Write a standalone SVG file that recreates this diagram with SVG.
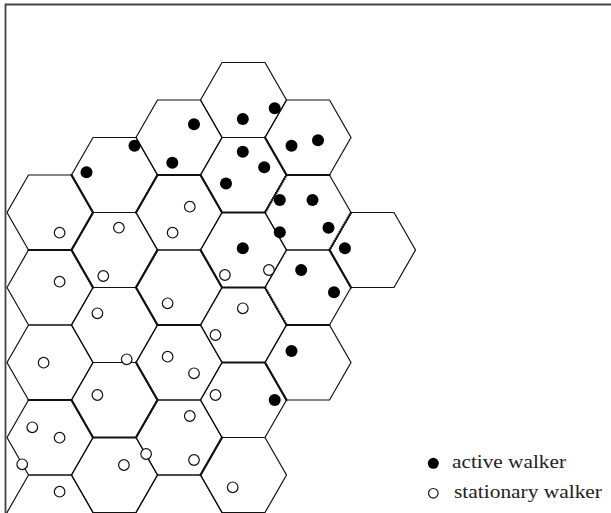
<svg xmlns="http://www.w3.org/2000/svg" xmlns:xlink="http://www.w3.org/1999/xlink" width="611" height="513" viewBox="0 0 611 513">
<style>
.cell{fill:none;stroke:#111;stroke-width:1.2;stroke-linejoin:miter}
.thick{fill:none;stroke:#111;stroke-width:2.2;stroke-linecap:round}
.hatch{fill:none;stroke:#111;stroke-width:2.6;stroke-dasharray:1.1 0.9}
.active{fill:#000}
.stat{fill:#fff;stroke:#111;stroke-width:1.2}
.lbl{font-family:"Liberation Serif","Times New Roman",serif;font-size:18px;fill:#222}
.frame{fill:none;stroke:#444;stroke-width:1.8}
</style>
<defs>
<polygon id="hex" points="-43,0 -21.5,-37.5 21.5,-37.5 43,0 21.5,37.5 -21.5,37.5"/>
</defs>
<rect width="611" height="513" fill="#fff"/>
<path class="frame" d="M5.5,513 V4.5 H611"/>

<g id="cells" class="cell">
<g id="hex-A1"><use href="#hex" x="50" y="212.5"/></g>
<g id="hex-A2"><use href="#hex" x="50" y="287.5"/></g>
<g id="hex-A3"><use href="#hex" x="50" y="362.5"/></g>
<g id="hex-A4"><use href="#hex" x="50" y="437.5"/></g>
<g id="hex-A5"><use href="#hex" x="50" y="512.5"/></g>
<g id="hex-B1"><use href="#hex" x="114.5" y="175"/></g>
<g id="hex-B2"><use href="#hex" x="114.5" y="250"/></g>
<g id="hex-B3"><use href="#hex" x="114.5" y="325"/></g>
<g id="hex-B4"><use href="#hex" x="114.5" y="400"/></g>
<g id="hex-B5"><use href="#hex" x="114.5" y="475"/></g>
<g id="hex-C1"><use href="#hex" x="179" y="137.5"/></g>
<g id="hex-C2"><use href="#hex" x="179" y="212.5"/></g>
<g id="hex-C3"><use href="#hex" x="179" y="287.5"/></g>
<g id="hex-C4"><use href="#hex" x="179" y="362.5"/></g>
<g id="hex-C5"><use href="#hex" x="179" y="437.5"/></g>
<g id="hex-C6"><use href="#hex" x="179" y="512.5"/></g>
<g id="hex-D1"><use href="#hex" x="243.5" y="100"/></g>
<g id="hex-D2"><use href="#hex" x="243.5" y="175"/></g>
<g id="hex-D3"><use href="#hex" x="243.5" y="250"/></g>
<g id="hex-D4"><use href="#hex" x="243.5" y="325"/></g>
<g id="hex-D5"><use href="#hex" x="243.5" y="400"/></g>
<g id="hex-D6"><use href="#hex" x="243.5" y="475"/></g>
<g id="hex-E1"><use href="#hex" x="308" y="137.5"/></g>
<g id="hex-E2"><use href="#hex" x="308" y="212.5"/></g>
<g id="hex-E3"><use href="#hex" x="308" y="287.5"/></g>
<g id="hex-E4"><use href="#hex" x="308" y="362.5"/></g>
<g id="hex-F1"><use href="#hex" x="372.5" y="250"/></g>
</g>

<g id="boundaries">
<path class="thick" d="M28.5,250H71.5 M71.5,175L93,212.5L71.5,250L93,287.5 M136,212.5L157.5,175H200.5 M157.5,250L136,287.5L157.5,325H200.5 M136,362.5L157.5,400L136,437.5H93L71.5,400H28.5 M222,437.5L200.5,475 M200.5,175L222,212.5H265 M200.5,250L222,287.5H265 M222,362.5H265L286.5,400 M265,137.5L286.5,175H329.5 M286.5,325H329.5 M329.5,250L351,287.5"/>
<path class="hatch" d="M286.5,175L265,212.5 M329.5,250L351,212.5 M265,287.5L286.5,325"/>
</g>

<g id="active-walkers" class="active">
<circle cx="274.7" cy="108.3" r="6"/>
<circle cx="242.8" cy="119" r="6"/>
<circle cx="194" cy="124.3" r="6"/>
<circle cx="134.5" cy="145.7" r="6"/>
<circle cx="86.5" cy="172.3" r="6"/>
<circle cx="172.3" cy="162.7" r="6"/>
<circle cx="242.8" cy="151.7" r="6"/>
<circle cx="264.2" cy="167.3" r="6"/>
<circle cx="226" cy="183.5" r="6"/>
<circle cx="291.5" cy="145.7" r="6"/>
<circle cx="318" cy="140.3" r="6"/>
<circle cx="279.8" cy="200" r="6"/>
<circle cx="312.5" cy="200" r="6"/>
<circle cx="279.8" cy="232.3" r="6"/>
<circle cx="328.5" cy="227.7" r="6"/>
<circle cx="242.8" cy="248.3" r="6"/>
<circle cx="344.9" cy="248.3" r="6"/>
<circle cx="301.2" cy="270" r="6"/>
<circle cx="334" cy="292.3" r="6"/>
<circle cx="291.5" cy="351" r="6"/>
<circle cx="274.7" cy="400" r="6"/>
</g>

<g id="stationary-walkers" class="stat">
<circle cx="189.8" cy="206.7" r="5.3"/>
<circle cx="118.9" cy="227.7" r="5.3"/>
<circle cx="172.6" cy="232.7" r="5.3"/>
<circle cx="59.6" cy="232.7" r="5.3"/>
<circle cx="59.6" cy="281.7" r="5.3"/>
<circle cx="103.3" cy="276" r="5.3"/>
<circle cx="224.9" cy="275" r="5.3"/>
<circle cx="268.9" cy="270" r="5.3"/>
<circle cx="167.6" cy="303.3" r="5.3"/>
<circle cx="97.4" cy="313.3" r="5.3"/>
<circle cx="242.8" cy="308.3" r="5.3"/>
<circle cx="215.5" cy="335" r="5.3"/>
<circle cx="43.6" cy="362.7" r="5.3"/>
<circle cx="126.7" cy="359.3" r="5.3"/>
<circle cx="167.6" cy="356.7" r="5.3"/>
<circle cx="194" cy="373.3" r="5.3"/>
<circle cx="97.4" cy="395" r="5.3"/>
<circle cx="215.5" cy="395" r="5.3"/>
<circle cx="189.8" cy="416" r="5.3"/>
<circle cx="32.3" cy="427.3" r="5.3"/>
<circle cx="59.6" cy="437.7" r="5.3"/>
<circle cx="22.2" cy="464.3" r="5.3"/>
<circle cx="146.1" cy="454" r="5.3"/>
<circle cx="123.9" cy="465" r="5.3"/>
<circle cx="194" cy="460" r="5.3"/>
<circle cx="59.6" cy="491.7" r="5.3"/>
<circle cx="232.7" cy="487.3" r="5.3"/>
</g>

<g id="legend">
<circle class="active" cx="433.3" cy="463.3" r="5.5"/>
<text class="lbl" x="452" y="468" textLength="114" lengthAdjust="spacingAndGlyphs">active walker</text>
<circle class="stat" cx="433.3" cy="493.3" r="4.8"/>
<text class="lbl" x="454" y="498" textLength="148" lengthAdjust="spacingAndGlyphs">stationary walker</text>
</g>
</svg>
